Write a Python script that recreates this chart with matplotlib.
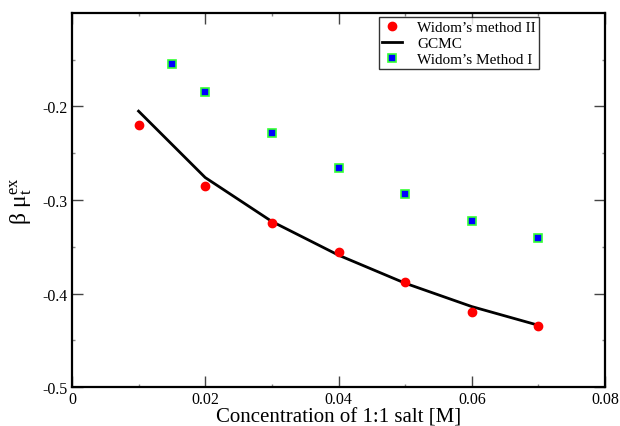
import numpy as np
import matplotlib
matplotlib.use("Agg")
import matplotlib.pyplot as plt

plt.rcParams['font.family'] = ['Liberation Serif', 'DejaVu Serif']
plt.rcParams['mathtext.fontset'] = 'custom'
plt.rcParams['mathtext.rm'] = 'Liberation Serif'
plt.rcParams['mathtext.it'] = 'Liberation Serif:italic'

# data
conc = [0.01, 0.02, 0.03, 0.04, 0.05, 0.06, 0.07]
widom2 = [-0.220, -0.285, -0.325, -0.356, -0.388, -0.420, -0.435]
gcmc = [-0.205, -0.276, -0.323, -0.359, -0.389, -0.414, -0.434]

conc1 = [0.015, 0.02, 0.03, 0.04, 0.05, 0.06, 0.07]
widom1 = [-0.155, -0.184, -0.228, -0.266, -0.294, -0.3225, -0.341]

xticks = [0, 0.02, 0.04, 0.06, 0.08]
xticklabels = ['0', '0.02', '0.04', '0.06', '0.08']
yticks = [-0.5, -0.4, -0.3, -0.2]
yticklabels = ['-0.5', '-0.4', '-0.3', '-0.2']

fig = plt.figure(figsize=(6.2, 4.27), dpi=100)
ax = fig.add_axes([0.116, 0.0913, 0.860, 0.876])

ax.plot(conc, widom2, 'o', color='red', markersize=6, label='Widom\u2019s method II', zorder=3)
ax.plot(conc, gcmc, '-', color='black', linewidth=2, label='GCMC', zorder=2)
ax.plot(conc1, widom1, 's', markerfacecolor='blue', markeredgecolor='#33ff33',
        markeredgewidth=1.2, markersize=5.5, linestyle='none', label='Widom\u2019s Method I', zorder=3)

ax.set_xlim(0, 0.08)
ax.set_ylim(-0.5, -0.1)
ax.set_xticks(xticks)
ax.set_xticklabels(xticklabels)
ax.set_yticks(yticks)
ax.set_yticklabels(yticklabels)
ax.set_xticks(np.arange(0.01, 0.08, 0.02), minor=True)
ax.set_yticks([-0.45, -0.35, -0.25, -0.15], minor=True)

ax.tick_params(which='major', direction='in', length=8, width=1, top=True, right=True,
               labelsize=11.5, pad=3, color='#444444')
ax.tick_params(which='minor', direction='in', length=2, width=1, top=True, right=True,
               color='#888888')
for s in ax.spines.values():
    s.set_linewidth(1.6)

ax.set_xlabel('Concentration of 1:1 salt [M]', fontsize=15, labelpad=0)
ax.set_ylabel(r'$\mathrm{\beta\ \mu_t^{ex}}$', fontsize=17, labelpad=6)

leg = ax.legend(loc='upper right', bbox_to_anchor=(0.882, 0.997), fontsize=11,
                frameon=True, fancybox=False, edgecolor='black', borderpad=0.2,
                labelspacing=0.15, handlelength=1.3, handletextpad=1.0, borderaxespad=0.2)
leg.get_frame().set_linewidth(1)

fig.savefig('out.png', dpi=100)
